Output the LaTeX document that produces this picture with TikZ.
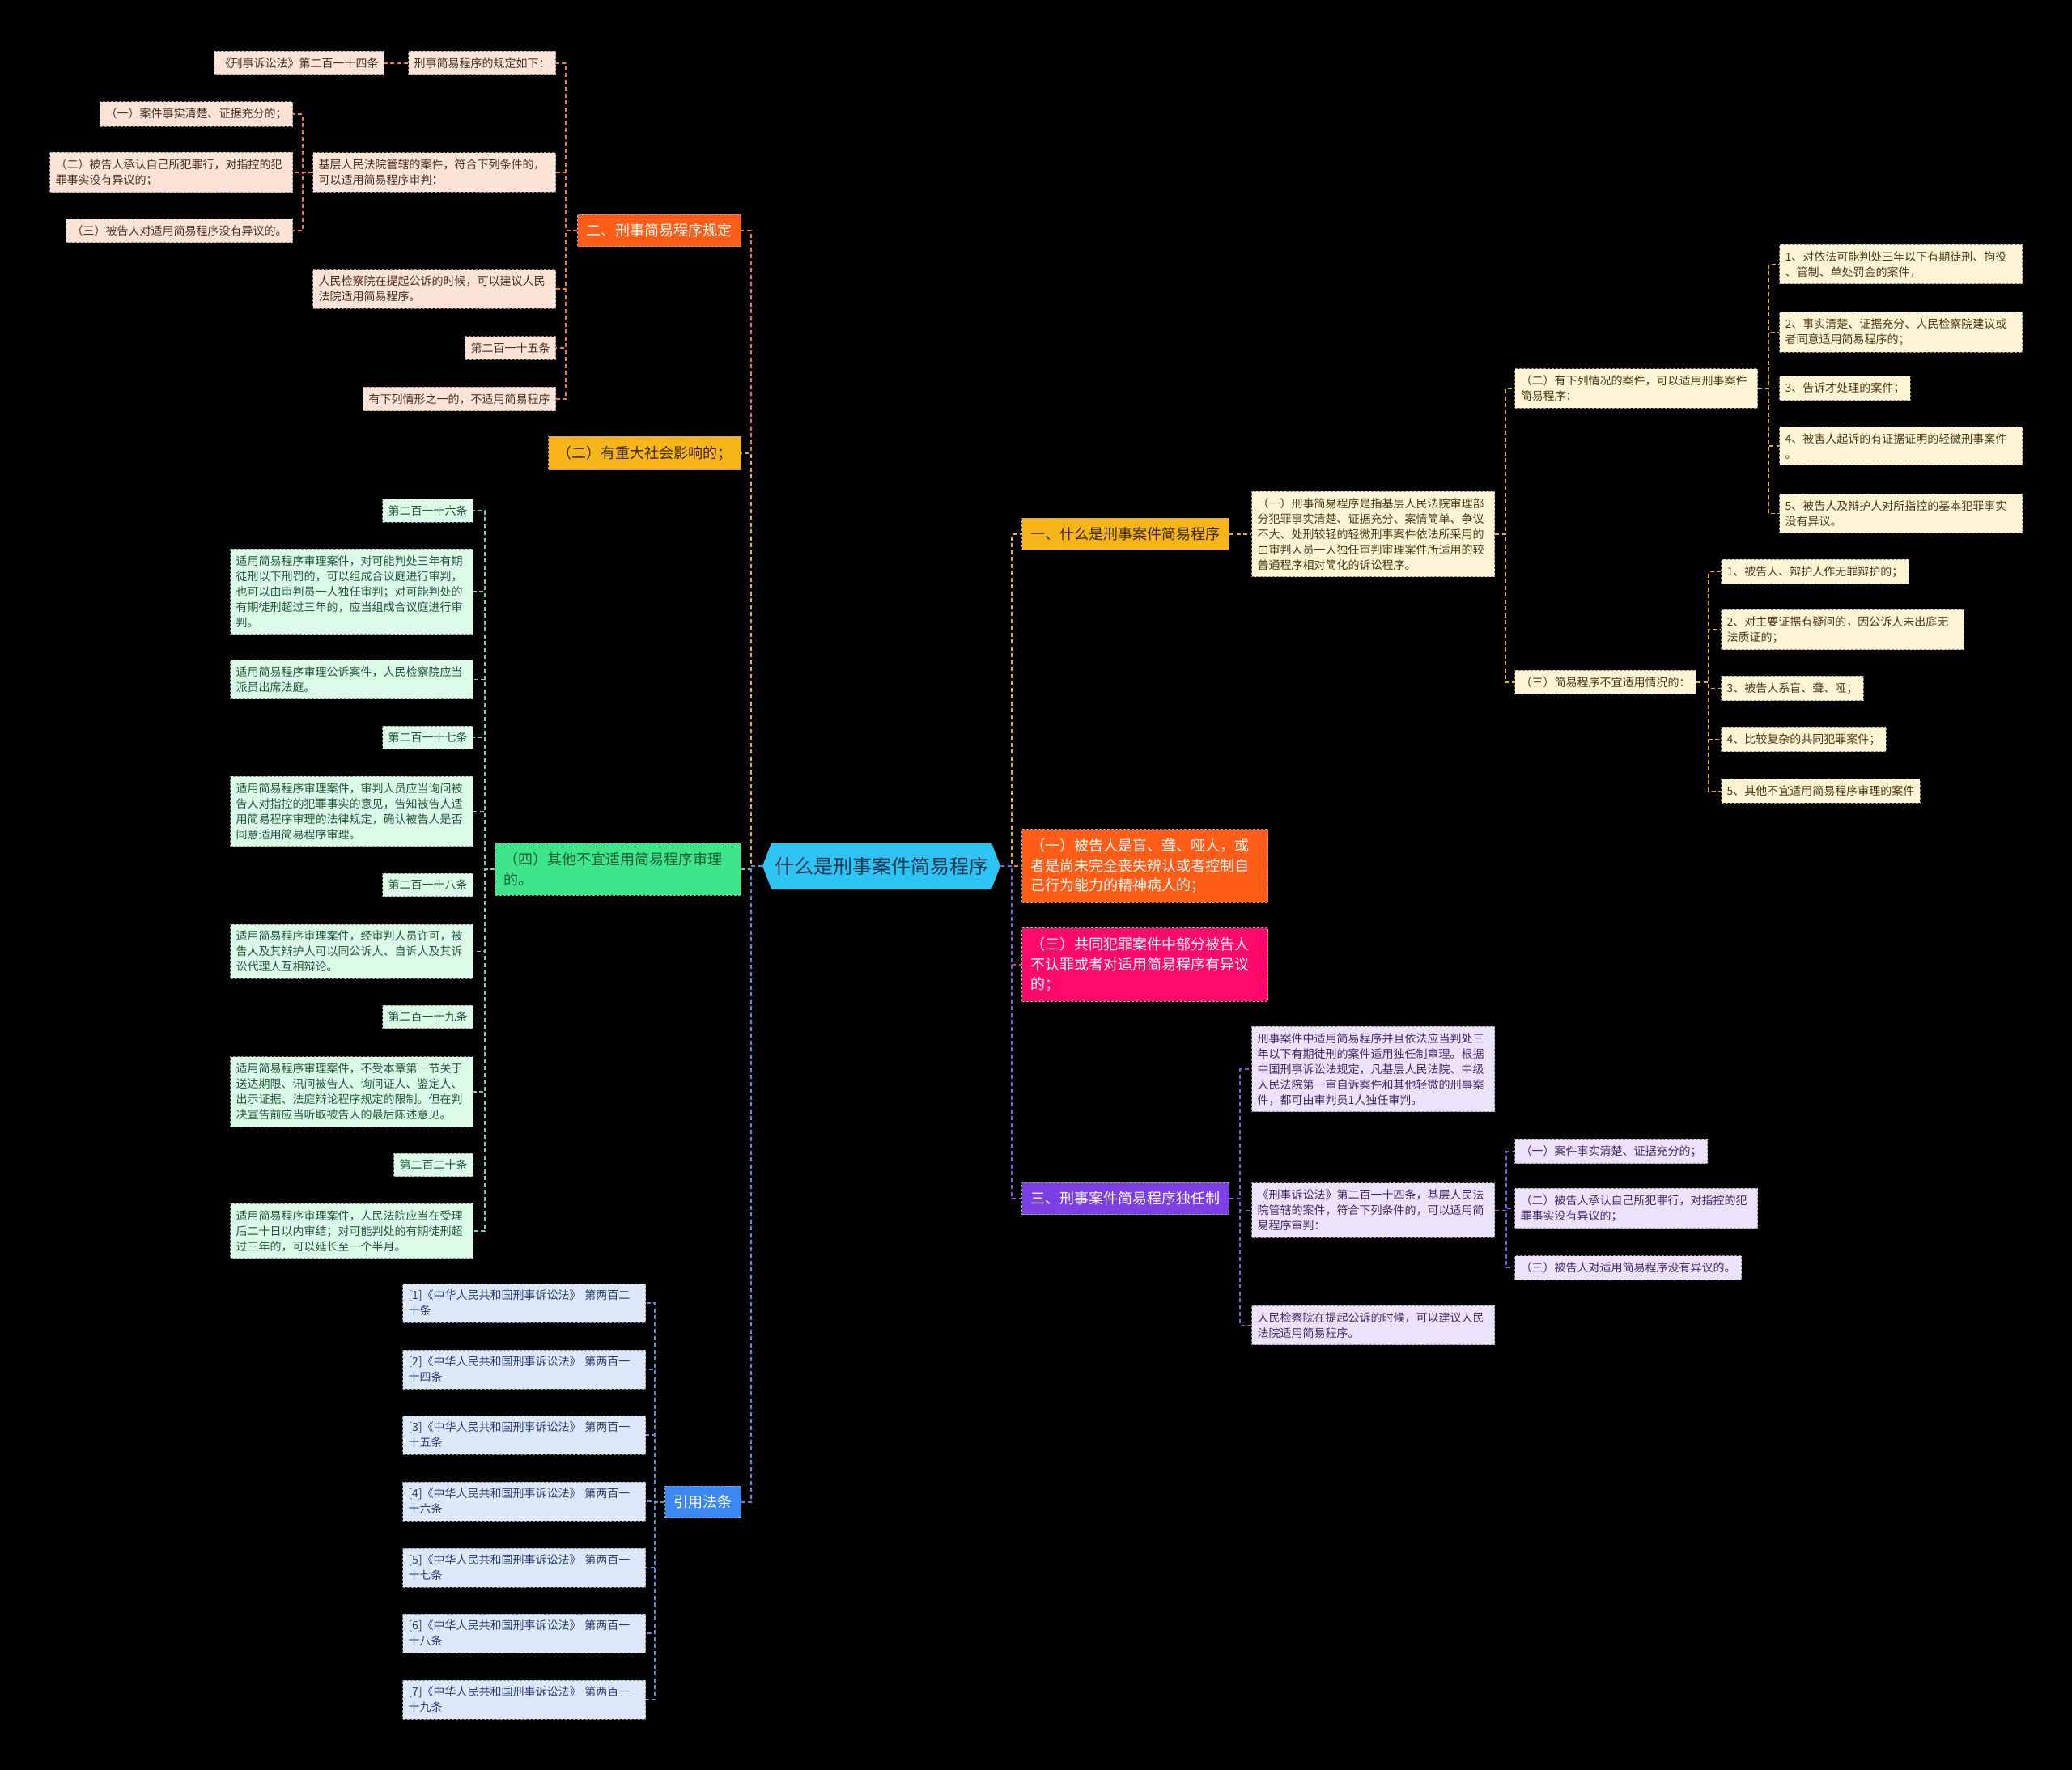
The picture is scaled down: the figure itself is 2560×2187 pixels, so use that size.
\documentclass[tikz,border=0pt]{standalone}
\usepackage{fontspec}
\setmainfont{Noto Sans CJK SC}
\usetikzlibrary{shapes.symbols}

\definecolor{corange}{HTML}{FF5D17}
\definecolor{cgold}{HTML}{F7B51A}
\definecolor{cpink}{HTML}{FF0A6A}
\definecolor{cpurple}{HTML}{7B3FE4}
\definecolor{cgreen}{HTML}{3DE68A}
\definecolor{cblue}{HTML}{3B88F2}
\definecolor{csky}{HTML}{2CC5F3}
\definecolor{troot}{HTML}{1E3550}
\definecolor{fpeach}{HTML}{FDE3D5}
\definecolor{fcream}{HTML}{FFF4D4}
\definecolor{fmint}{HTML}{DBFAE7}
\definecolor{fblue}{HTML}{DCE7FA}
\definecolor{flav}{HTML}{ECE2FB}
\definecolor{tpeach}{HTML}{4A2E22}
\definecolor{tcream}{HTML}{4A3A14}
\definecolor{tmint}{HTML}{1F5A3A}
\definecolor{tblue}{HTML}{2A4070}
\definecolor{tlav}{HTML}{3E2C66}
\definecolor{tgold}{HTML}{3A2A00}
\definecolor{lorange}{HTML}{F07A40}
\definecolor{lgold}{HTML}{E8B02A}
\definecolor{lgreen}{HTML}{6FD8A0}
\definecolor{lblue}{HTML}{5A8FE0}
\definecolor{lpurple}{HTML}{8A55E8}
\definecolor{lpink}{HTML}{E0306A}

\tikzset{
  leaf/.style 2 args={rectangle, fill=#1, text=#2, draw=black!45, line width=1pt,
    dash pattern=on 3pt off 2pt, inner xsep=7pt, inner ysep=8pt, align=left,
    font=\fontsize{14}{19}\selectfont},
  leafo/.style={leaf={fpeach}{tpeach}},
  leafc/.style={leaf={fcream}{tcream}},
  leafg/.style={leaf={fmint}{tmint}},
  leafb/.style={leaf={fblue}{tblue}},
  leafp/.style={leaf={flav}{tlav}},
  wide/.style={text width=286pt},
  topic/.style 2 args={rectangle, fill=#1, text=#2, draw=black!35, line width=1pt,
    dash pattern=on 3pt off 2pt, inner xsep=11pt, inner ysep=11.5pt, align=left,
    font=\fontsize{18}{24.5}\selectfont},
  root/.style={signal, signal to=west and east, signal pointer angle=138, fill=csky,
    text=troot, inner xsep=4pt, minimum height=57pt, font=\fontsize{24}{28}\selectfont},
  link/.style={draw=#1, line width=1.4pt, dash pattern=on 5pt off 3.5pt}
}

\begin{document}
\begin{tikzpicture}[x=1pt,y=-1pt]
  \path[use as bounding box, fill=black] (0,0) rectangle (2560,2187);

  \node[root] (c) at (1089,1070) {什么是刑事案件简易程序};

  % right side
  \node[topic={cgold}{tgold}, anchor=west] (what) at (1262,660) {一、什么是刑事案件简易程序};
  \node[topic={corange}{white}, anchor=west, text width=282pt] (blind) at (1262,1070)
    {（一）被告人是盲、聋、哑人，或\\者是尚未完全丧失辨认或者控制自\\己行为能力的精神病人的；};
  \node[topic={cpink}{white}, anchor=west, text width=282pt] (joint) at (1262,1192)
    {（三）共同犯罪案件中部分被告人\\不认罪或者对适用简易程序有异议\\的；};
  \node[topic={cpurple}{white}, anchor=west] (solo) at (1262,1481) {三、刑事案件简易程序独任制};

  % left side
  \node[topic={corange}{white}, anchor=east] (rules) at (916,285) {二、刑事简易程序规定};
  \node[topic={cgold}{tgold}, anchor=east] (social) at (916,560) {（二）有重大社会影响的；};
  \node[topic={cgreen}{tmint}, anchor=east, text width=282pt] (other) at (916,1074)
    {（四）其他不宜适用简易程序审理\\的。};
  \node[topic={cblue}{white}, anchor=east] (cite) at (916,1856) {引用法条};

  \draw[link=lgold] (c.east) -- ++(14,0) |- (what.west);
  \draw[link=lorange] (c.east) -- (blind.west);
  \draw[link=lpink] (c.east) -- ++(14,0) |- (joint.west);
  \draw[link=lpurple] (c.east) -- ++(14,0) |- (solo.west);
  \draw[link=lorange] (c.west) -- ++(-14,0) |- (rules.east);
  \draw[link=lgold] (c.west) -- ++(-14,0) |- (social.east);
  \draw[link=lgreen] (c.west) -- ++(-14,0) |- (other.east);
  \draw[link=lblue] (c.west) -- ++(-14,0) |- (cite.east);

  % branch: rules
  \node[leafo, anchor=east] (o1) at (687,78) {刑事简易程序的规定如下：};
  \node[leafo, anchor=east] (law) at (475,78) {《刑事诉讼法》第二百一十四条};
  \node[leafo, wide, anchor=east] (o2) at (687,213) {基层人民法院管辖的案件，符合下列条件的，\\可以适用简易程序审判：};
  \node[leafo, wide, anchor=east] (o3) at (687,357) {人民检察院在提起公诉的时候，可以建议人民\\法院适用简易程序。};
  \node[leafo, anchor=east] (o4) at (687,430) {第二百一十五条};
  \node[leafo, anchor=east] (o5) at (687,493) {有下列情形之一的，不适用简易程序};
  \node[leafo, anchor=east] (ca) at (362,141) {（一）案件事实清楚、证据充分的；};
  \node[leafo, wide, anchor=east] (cb) at (362,213) {（二）被告人承认自己所犯罪行，对指控的犯\\罪事实没有异议的；};
  \node[leafo, anchor=east] (cc) at (362,285) {（三）被告人对适用简易程序没有异议的。};
  \foreach \n in {o1,o2,o3,o4,o5} {\draw[link=lorange] (rules.west) -- ++(-14,0) |- (\n.east);}
  \draw[link=lorange] (o1.west) -- (law.east);
  \foreach \n in {ca,cb,cc} {\draw[link=lorange] (o2.west) -- ++(-12,0) |- (\n.east);}

  % branch: other
  \node[leafg, anchor=east] (g1) at (585,631) {第二百一十六条};
  \node[leafg, wide, anchor=east] (g2) at (585,731) {适用简易程序审理案件，对可能判处三年有期\\徒刑以下刑罚的，可以组成合议庭进行审判，\\也可以由审判员一人独任审判；对可能判处的\\有期徒刑超过三年的，应当组成合议庭进行审\\判。};
  \node[leafg, wide, anchor=east] (g3) at (585,839.5) {适用简易程序审理公诉案件，人民检察院应当\\派员出席法庭。};
  \node[leafg, anchor=east] (g4) at (585,911.5) {第二百一十七条};
  \node[leafg, wide, anchor=east] (g5) at (585,1002.5) {适用简易程序审理案件，审判人员应当询问被\\告人对指控的犯罪事实的意见，告知被告人适\\用简易程序审理的法律规定，确认被告人是否\\同意适用简易程序审理。};
  \node[leafg, anchor=east] (g6) at (585,1093.5) {第二百一十八条};
  \node[leafg, wide, anchor=east] (g7) at (585,1175.5) {适用简易程序审理案件，经审判人员许可，被\\告人及其辩护人可以同公诉人、自诉人及其诉\\讼代理人互相辩论。};
  \node[leafg, anchor=east] (g8) at (585,1256.5) {第二百一十九条};
  \node[leafg, wide, anchor=east] (g9) at (585,1349) {适用简易程序审理案件，不受本章第一节关于\\送达期限、讯问被告人、询问证人、鉴定人、\\出示证据、法庭辩论程序规定的限制。但在判\\决宣告前应当听取被告人的最后陈述意见。};
  \node[leafg, anchor=east] (g10) at (585,1439.5) {第二百二十条};
  \node[leafg, wide, anchor=east] (g11) at (585,1521) {适用简易程序审理案件，人民法院应当在受理\\后二十日以内审结；对可能判处的有期徒刑超\\过三年的，可以延长至一个半月。};
  \foreach \i in {1,...,11} {\draw[link=lgreen] (other.west) -- ++(-12,0) |- (g\i.east);}

  % branch: cite
  \foreach \i/\y/\a/\b in {1/1610/二/十条, 2/1692/一/十四条, 3/1773/一/十五条, 4/1855/一/十六条,
      5/1937/一/十七条, 6/2018/一/十八条, 7/2100/一/十九条} {
    \node[leafb, wide, anchor=east] (ref\i) at (798,\y) {[\i]《中华人民共和国刑事诉讼法》~第两百\a\\\b};
    \draw[link=lblue] (cite.west) -- ++(-12,0) |- (ref\i.east);
  }

  % branch: what
  \node[leafc, wide, anchor=west] (define) at (1546,660) {（一）刑事简易程序是指基层人民法院审理部\\分犯罪事实清楚、证据充分、案情简单、争议\\不大、处刑较轻的轻微刑事案件依法所采用的\\由审判人员一人独任审判审理案件所适用的较\\普通程序相对简化的诉讼程序。};
  \draw[link=lgold] (what.east) -- (define.west);
  \node[leafc, wide, anchor=west] (suit) at (1871,480) {（二）有下列情况的案件，可以适用刑事案件\\简易程序：};
  \node[leafc, anchor=west] (unsuit) at (1871,843) {（三）简易程序不宜适用情况的：};
  \foreach \n in {suit,unsuit} {\draw[link=lgold] (define.east) -- ++(13,0) |- (\n.west);}
  \node[leafc, wide, anchor=west] (s1) at (2198,326.5) {1、对依法可能判处三年以下有期徒刑、拘役\\、管制、单处罚金的案件，};
  \node[leafc, wide, anchor=west] (s2) at (2198,410.5) {2、事实清楚、证据充分、人民检察院建议或\\者同意适用简易程序的；};
  \node[leafc, anchor=west] (s3) at (2198,479.5) {3、告诉才处理的案件；};
  \node[leafc, wide, anchor=west] (s4) at (2198,551) {4、被害人起诉的有证据证明的轻微刑事案件\\。};
  \node[leafc, wide, anchor=west] (s5) at (2198,634.5) {5、被告人及辩护人对所指控的基本犯罪事实\\没有异议。};
  \foreach \i in {1,...,5} {\draw[link=lgold] (suit.east) -- ++(13,0) |- (s\i.west);}
  \node[leafc, anchor=west] (u1) at (2126,706.5) {1、被告人、辩护人作无罪辩护的；};
  \node[leafc, wide, anchor=west] (u2) at (2126,778) {2、对主要证据有疑问的，因公诉人未出庭无\\法质证的；};
  \node[leafc, anchor=west] (u3) at (2126,850.5) {3、被告人系盲、聋、哑；};
  \node[leafc, anchor=west] (u4) at (2126,913.5) {4、比较复杂的共同犯罪案件；};
  \node[leafc, anchor=west] (u5) at (2126,977.5) {5、其他不宜适用简易程序审理的案件};
  \foreach \i in {1,...,5} {\draw[link=lgold] (unsuit.east) -- ++(15,0) |- (u\i.west);}

  % branch: solo
  \node[leafp, wide, anchor=west] (p1) at (1546,1321) {刑事案件中适用简易程序并且依法应当判处三\\年以下有期徒刑的案件适用独任制审理。根据\\中国刑事诉讼法规定，凡基层人民法院、中级\\人民法院第一审自诉案件和其他轻微的刑事案\\件，都可由审判员1人独任审判。};
  \node[leafp, wide, anchor=west] (p2) at (1546,1495.5) {《刑事诉讼法》第二百一十四条，基层人民法\\院管辖的案件，符合下列条件的，可以适用简\\易程序审判：};
  \node[leafp, wide, anchor=west] (p3) at (1546,1637.5) {人民检察院在提起公诉的时候，可以建议人民\\法院适用简易程序。};
  \foreach \i in {1,2,3} {\draw[link=lpurple] (solo.east) -- ++(13,0) |- (p\i.west);}
  \node[leafp, anchor=west] (q1) at (1871,1422.5) {（一）案件事实清楚、证据充分的；};
  \node[leafp, wide, anchor=west] (q2) at (1871,1493) {（二）被告人承认自己所犯罪行，对指控的犯\\罪事实没有异议的；};
  \node[leafp, anchor=west] (q3) at (1871,1566.5) {（三）被告人对适用简易程序没有异议的。};
  \foreach \i in {1,2,3} {\draw[link=lpurple] (p2.east) -- ++(14,0) |- (q\i.west);}
\end{tikzpicture}
\end{document}
